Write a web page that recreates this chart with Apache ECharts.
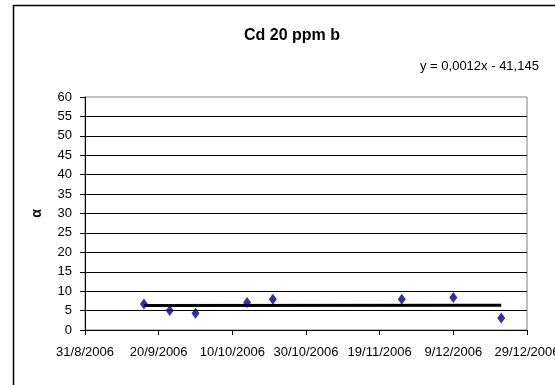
<!DOCTYPE html>
<html>
<head>
<meta charset="utf-8">
<title>Cd 20 ppm b</title>
<script src="https://cdn.jsdelivr.net/npm/echarts@6/dist/echarts.min.js"></script>
<style>
  html, body { margin: 0; padding: 0; background: #fff; }
  #chart { width: 555px; height: 385px; }
</style>
</head>
<body>
<div id="chart"></div>
<script>
// Sampling dates and measured alpha values
const sampleDates = ['2006-09-16', '2006-09-23', '2006-09-30', '2006-10-14', '2006-10-21', '2006-11-25', '2006-12-09', '2006-12-22'];
const alphaValues = [6.7, 5.0, 4.3, 7.1, 7.9, 7.9, 8.4, 3.1];

// Linear trendline end points
const trendDates = ['2006-09-16', '2006-12-22'];
const trendValues = [6.3, 6.4];

// Axis settings
const axisStartDate = '2006-08-31';
const axisSpanDays = 120;
const axisStepDays = 20;
const yTickValues = [0, 5, 10, 15, 20, 25, 30, 35, 40, 45, 50, 55, 60];

const titleText = 'Cd 20 ppm b';
const equationText = 'y = 0,0012x - 41,145';
const yAxisTitle = 'α';

const DAY = 86400000;
const baseMs = Date.parse(axisStartDate + 'T00:00:00Z');
const toDay = s => Math.round((Date.parse(s + 'T00:00:00Z') - baseMs) / DAY);
const fmtDay = d => {
  const dt = new Date(baseMs + d * DAY);
  return dt.getUTCDate() + '/' + (dt.getUTCMonth() + 1) + '/' + dt.getUTCFullYear();
};

const points = sampleDates.map((s, i) => [toDay(s), alphaValues[i]]);
const trend = trendDates.map((s, i) => [toDay(s), trendValues[i]]);

const FONT = '"Liberation Sans", Arial, sans-serif';

const chart = echarts.init(document.getElementById('chart'), null, { renderer: 'canvas' });
chart.setOption({
  animation: false,
  backgroundColor: '#fff',
  grid: {
    left: 85, right: 28, top: 97, bottom: 55,
    containLabel: false, outerBoundsMode: 'none',
    show: true, borderColor: '#808080', borderWidth: 1, backgroundColor: 'transparent'
  },
  xAxis: {
    type: 'value',
    min: 0, max: axisSpanDays, interval: axisStepDays,
    axisLine: { show: true, lineStyle: { color: '#000', width: 1 } },
    axisTick: { show: true, inside: false, length: 5, lineStyle: { color: '#000' } },
    axisLabel: {
      margin: 16, color: '#000', fontFamily: FONT, fontSize: 13,
      formatter: v => fmtDay(v), showMinLabel: true, showMaxLabel: true
    },
    splitLine: { show: false }
  },
  yAxis: {
    type: 'value',
    min: yTickValues[0], max: yTickValues[yTickValues.length - 1], interval: 5,
    name: yAxisTitle, nameLocation: 'middle', nameGap: 41, nameRotate: 90,
    nameTextStyle: { color: '#000', fontFamily: FONT, fontSize: 14, fontWeight: 'bold' },
    axisLine: { show: true, lineStyle: { color: '#000', width: 1 } },
    axisTick: { show: true, inside: false, length: 5, lineStyle: { color: '#000' } },
    axisLabel: { margin: 13, color: '#000', fontFamily: FONT, fontSize: 13 },
    splitLine: { show: true, showMinLine: false, showMaxLine: false, lineStyle: { color: '#000', width: 1 } }
  },
  graphic: [
    {
      // chart-area frame (left and top edges fall inside the page)
      type: 'polyline', silent: true, z: 100,
      shape: { points: [[13.5, 600], [13.5, 5.5], [800, 5.5]] },
      style: { fill: 'none', stroke: '#000', lineWidth: 1.5 }
    },
    {
      type: 'text', silent: true, x: 292, y: 36,
      style: {
        text: titleText, fill: '#000', font: 'bold 16px ' + FONT,
        textAlign: 'center', textVerticalAlign: 'middle'
      }
    },
    {
      type: 'text', silent: true, x: 420, y: 66,
      style: {
        text: equationText, fill: '#000', font: '13px ' + FONT,
        textAlign: 'left', textVerticalAlign: 'middle'
      }
    }
  ],
  series: [
    {
      type: 'line', data: trend, showSymbol: false, symbol: 'none',
      lineStyle: { color: '#000', width: 3 }, z: 2, silent: true
    },
    {
      type: 'scatter', data: points, symbol: 'diamond', symbolSize: [8, 11],
      itemStyle: { color: '#000080' }, z: 3
    }
  ]
});
</script>
</body>
</html>
